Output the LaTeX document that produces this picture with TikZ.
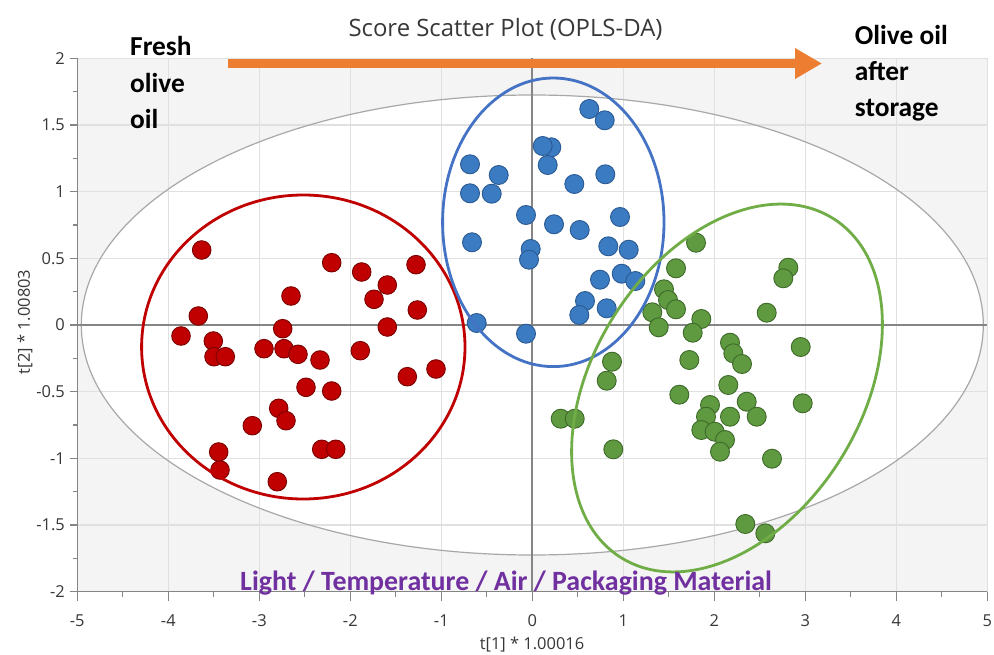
\documentclass[tikz,border=0pt]{standalone}
\usepackage{fontspec}
\setmainfont{Carlito}
\newfontfamily\uifont{Open Sans}
\usetikzlibrary{arrows.meta}
\definecolor{plotbg}{HTML}{F4F4F4}
\definecolor{gridc}{HTML}{E0E0E0}
\definecolor{axisc}{HTML}{858585}
\definecolor{ellgray}{HTML}{A8A8A8}
\definecolor{txtc}{HTML}{383838}
\definecolor{dotred}{HTML}{C00000}
\definecolor{dotredline}{HTML}{7A0000}
\definecolor{dotblue}{HTML}{3B7BC2}
\definecolor{dotblueline}{HTML}{2A5A92}
\definecolor{dotgreen}{HTML}{5F9A41}
\definecolor{dotgreenline}{HTML}{3D6A28}
\definecolor{ellred}{HTML}{C00000}
\definecolor{ellblue}{HTML}{4472C4}
\definecolor{ellgreen}{HTML}{70AD47}
\definecolor{arroworange}{HTML}{ED7D31}
\definecolor{factorpurple}{HTML}{7030A0}
\begin{document}
\begin{tikzpicture}[x=1bp,y=-1bp,
  gridline/.style={draw=gridc,line width=1.3bp},
  axisline/.style={draw=axisc,line width=1.3bp},
  zeroline/.style={draw=axisc,line width=1.8bp},
  reddot/.style={fill=dotred,draw=dotredline,line width=0.9bp},
  bluedot/.style={fill=dotblue,draw=dotblueline,line width=0.9bp},
  greendot/.style={fill=dotgreen,draw=dotgreenline,line width=0.9bp},
  groupell/.style={line width=2.8bp},
  ticklbl/.style={font=\uifont\fontsize{16.5}{19}\selectfont,text=txtc,inner sep=0pt},
  boldlbl/.style={font=\bfseries\fontsize{27.5}{33}\selectfont,text=black,inner sep=0pt,anchor=base west}
]
\useasboundingbox (0,0) rectangle (994,655);
\fill[white] (0,0) rectangle (994,655);
% plot background
\fill[plotbg] (77.3,58.3) rectangle (987.3,591.7);
\fill[white] (532.3,325) ellipse [x radius=451bp, y radius=230bp];
% grid
\foreach \i in {-4,...,5}
  \draw[gridline] ({532.3+91*\i},58.3) -- ({532.3+91*\i},591.7);
\foreach \v in {-1.5,-1,-0.5,0.5,1,1.5,2}
  \draw[gridline] (77.3,{325-133.333*\v}) -- (987.3,{325-133.333*\v});
% confidence ellipse
\draw[draw=ellgray,line width=1.2bp] (532.3,325) ellipse [x radius=451bp, y radius=230bp];
% zero lines
\draw[zeroline] (532.3,58.3) -- (532.3,591.7);
\draw[zeroline] (77.3,325) -- (987.3,325);
% axes
\draw[axisline] (77.3,58.3) -- (77.3,591.7) -- (987.3,591.7);
\foreach \v in {-2,-1.5,...,2}
  \draw[axisline] (69.5,{325-133.333*\v}) -- (77.3,{325-133.333*\v});
\foreach \v in {-1.75,-1.25,...,1.75}
  \draw[axisline] (73.3,{325-133.333*\v}) -- (77.3,{325-133.333*\v});
\foreach \i in {-5,...,5}
  \draw[axisline] ({532.3+91*\i},591.7) -- ({532.3+91*\i},600.5);
\foreach \i in {-4.5,-3.5,...,4.5}
  \draw[axisline] ({532.3+91*\i},591.7) -- ({532.3+91*\i},596.5);
% tick labels
\foreach \v/\t [count=\k] in {2/2,1.5/1.5,1/1,0.5/0.5,0/0,-0.5/-0.5,-1/-1,-1.5/-1.5,-2/-2}
  \node[ticklbl,anchor=east] (yt\k) at (65,{325-133.333*\v}) {\t};
\foreach \i [count=\k] in {-5,...,5}
  \node[ticklbl,anchor=center] (xt\k) at ({532.3+91*\i},621) {\i};
% axis titles
\node[ticklbl,anchor=center] (xtitle) at (532,645) {t[1] * 1.00016};
\node[ticklbl,anchor=center,rotate=90] (ytitle) at (25,322) {t[2] * 1.00803};
% title
\node[font=\uifont\fontsize{24}{28}\selectfont,text=txtc,inner sep=0pt,anchor=base] (title) at (505.5,36.5) {Score Scatter Plot (OPLS-DA)};
% red group
\foreach \px/\py in {201.7/250,331.7/262.7,361.7/272,416/264.7,387.3/285,374/299.3,291/296,417.3/310,198.3/316,181/336,282.7/328.7,387.3/327,213.3/341,214/356.7,225.3/356.7,264/348.7,284/348.7,298/354.3,320/360,360.3/350.7,407.3/376.7,436/369,306/387.3,331.7/391,278.7/408.3,286/420.7,252.3/425.7,218.7/452,220/470,321.7/449.3,335.7/449.3,277.3/481.7}
  \draw[reddot] (\px,\py) circle [radius=9.3bp];
% blue group
\foreach \px/\py in {589.3/109,604.7/120.3,551.3/147.3,542.7/146,547.7/165,470/164.3,498.7/175,605.3/174.3,574.3/184,470/193.3,491.7/193.7,526/215,554/224.3,579.7/230,620/217,472/242.3,530.7/249,529/259.7,608.3/246.3,628.7/249.7,600/279.7,621.7/273.7,635.3/281,585/301,579.3/315,606.7/308.3,476.7/323,526/333.7}
  \draw[bluedot] (\px,\py) circle [radius=9.5bp];
% green group
\foreach \px/\py in {696/242.7,676/268.3,788.3/267.7,783.3/278.3,664/289.3,668/300,676/309.3,652.3/312.3,658.7/327.3,701.3/319,692.7/332.7,766.7/312.7,730/342.7,733.3/353.3,742/364,800.7/347,689.3/360,612/361.7,606.7/380.7,728.3/385,679.3/394.7,802.7/403.3,560.7/418.7,574.7/418.7,710/405,706/416.7,730/416.7,746.7/401.7,756.7/416.7,701.3/430,714.7/431.7,725/440,720/451.7,613.3/449.3,772/458.7,745.3/524,765.3/533.3}
  \draw[greendot] (\px,\py) circle [radius=9.5bp];
% group ellipses
\draw[groupell,draw=ellred] (303.3,347) ellipse [x radius=161.7bp, y radius=152bp];
\draw[groupell,draw=ellblue] (553.3,222.3) ellipse [x radius=110.7bp, y radius=144.3bp];
\draw[groupell,draw=ellgreen,rotate around={58:(727,388)}] (727,388) ellipse [x radius=200bp, y radius=134bp];
% storage arrow
\coordinate (arrS) at (228,63.5);
\coordinate (arrE) at (822,63.5);
\draw[draw=arroworange,line width=9bp,-{Triangle[length=27bp,width=29bp]}] (arrS) -- (arrE);
% labels
\node[boldlbl] (fresh1) at (130,56) {Fresh};
\node[boldlbl] (fresh2) at (130,92.5) {olive};
\node[boldlbl] (fresh3) at (130,129) {oil};
\node[boldlbl] (stor1) at (854.7,45) {Olive oil};
\node[boldlbl] (stor2) at (854.7,81) {after};
\node[boldlbl] (stor3) at (854.7,117) {storage};
\node[font=\bfseries\fontsize{28}{33}\selectfont,text=factorpurple,inner sep=0pt,anchor=base west] (factors) at (240,590.5) {Light / Temperature / Air / Packaging Material};
\end{tikzpicture}
\end{document}
